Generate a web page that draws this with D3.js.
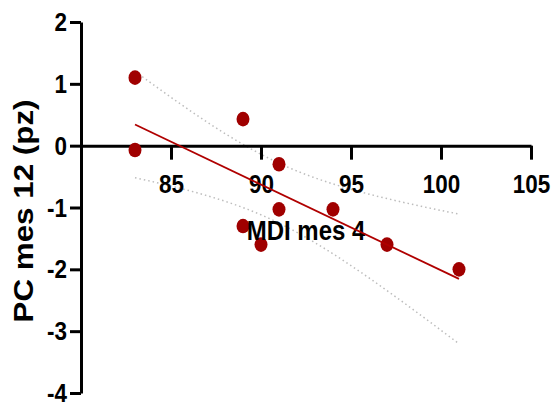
<!DOCTYPE html>
<html>
<head>
<meta charset="utf-8">
<script src="https://cdn.jsdelivr.net/npm/d3@7"></script>
<style>
  html, body { margin: 0; padding: 0; background: #fff; }
  svg { display: block; }
  text { font-family: "Liberation Sans", Arial, sans-serif; fill: #000; }
</style>
</head>
<body>
<svg id="chart" width="553" height="404"></svg>
<script>
// MDI at month 4 vs PC at month 12 (z-score)
const mdiMes4 = [83, 83, 89, 91, 91, 94, 89, 90, 97, 101];
const pcMes12 = [1.1, -0.07, 0.43, -0.3, -1.03, -1.03, -1.3, -1.6, -1.6, -2.0];
const xTicks = [85, 90, 95, 100, 105];
const yTicks = [-4, -3, -2, -1, 0, 1, 2];
const xTitle = "MDI mes 4";
const yTitle = "PC mes 12 (pz)";
const tCrit = 2.306; // Student t, 95% two-sided, df = 8

const svg = d3.select("#chart");
const x = d3.scaleLinear().domain([80, 105]).range([81, 531]);
const y = d3.scaleLinear().domain([-4, 2]).range([393, 22]);
const stretch = 1.12;

// least-squares fit and 95% confidence band of the mean
const n = mdiMes4.length;
const mx = d3.mean(mdiMes4), my = d3.mean(pcMes12);
const sxx = d3.sum(mdiMes4, v => (v - mx) ** 2);
const sxy = d3.sum(mdiMes4, (v, i) => (v - mx) * (pcMes12[i] - my));
const slope = sxy / sxx, icpt = my - slope * mx;
const fit = v => icpt + slope * v;
const sse = d3.sum(mdiMes4, (v, i) => (pcMes12[i] - fit(v)) ** 2);
const se = Math.sqrt(sse / (n - 2));
const half = v => tCrit * se * Math.sqrt(1 / n + (v - mx) ** 2 / sxx);
const [xMin, xMax] = d3.extent(mdiMes4);
const grid = d3.range(0, 61).map(k => xMin + (xMax - xMin) * k / 60);

const line = d3.line().x(d => x(d[0])).y(d => y(d[1]));

// confidence band (dotted)
[1, -1].forEach(sgn => {
  svg.append("path")
    .datum(grid.map(v => [v, fit(v) + sgn * half(v)]))
    .attr("d", line)
    .attr("fill", "none")
    .attr("stroke", "#bdbdbd")
    .attr("stroke-width", 1.5)
    .attr("stroke-dasharray", "1.5 3");
});

// x axis through y = 0
const gx = svg.append("g")
  .attr("transform", `translate(0,${y(0)})`)
  .call(d3.axisBottom(x).tickValues(xTicks).tickSize(14).tickSizeOuter(0).tickFormat(d3.format("d")));
gx.selectAll(".tick text")
  .attr("y", 0).attr("dy", null)
  .attr("transform", `translate(0,47) scale(1,${stretch})`)
  .style("font-size", "22.5px").style("font-weight", "bold");

// y axis
const gy = svg.append("g")
  .attr("transform", `translate(${x(80)},0)`)
  .call(d3.axisLeft(y).tickValues(yTicks).tickSize(11).tickSizeOuter(0).tickFormat(d => String(d)));
gy.selectAll(".tick text")
  .attr("x", 0).attr("dy", null)
  .attr("transform", `translate(-14,8.5) scale(1,${stretch})`)
  .attr("text-anchor", "end")
  .style("font-size", "22.5px").style("font-weight", "bold");

[gx, gy].forEach(g => {
  g.select(".domain").attr("stroke", "#000").attr("stroke-width", 3);
  g.selectAll(".tick line").attr("stroke", "#000").attr("stroke-width", 3);
});

// data points
svg.append("g").selectAll("ellipse")
  .data(mdiMes4.map((v, i) => [v, pcMes12[i]]))
  .join("ellipse")
  .attr("cx", d => x(d[0]))
  .attr("cy", d => y(d[1]))
  .attr("rx", 6.5).attr("ry", 7.3)
  .attr("fill", "#a00000");

// axis titles
svg.append("text")
  .attr("transform", `translate(306,240) scale(1,${stretch})`)
  .attr("text-anchor", "middle")
  .style("font-size", "24px").style("font-weight", "bold")
  .text(xTitle);

svg.append("text")
  .attr("transform", `translate(33,211) rotate(-90) scale(${stretch},1)`)
  .attr("text-anchor", "middle")
  .style("font-size", "28px").style("font-weight", "bold")
  .text(yTitle);

// regression line
svg.append("path")
  .datum([[xMin, fit(xMin)], [xMax, fit(xMax)]])
  .attr("d", line)
  .attr("fill", "none")
  .attr("stroke", "#b00000")
  .attr("stroke-width", 1.8);
</script>
</body>
</html>
